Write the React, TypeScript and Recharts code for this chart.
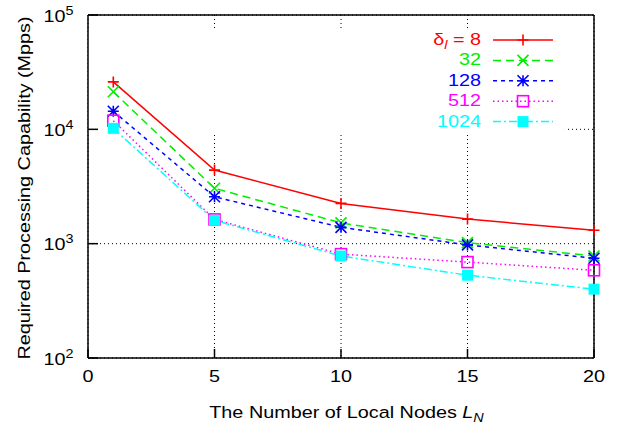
import {
  LineChart,
  Line,
  XAxis,
  YAxis,
  CartesianGrid,
  ReferenceArea,
  Legend,
} from 'recharts';

// Local node counts on the x axis
const nodes = [1, 5, 10, 15, 20];

// Required processing capability (Mpps), one list per delta_l setting
const delta8 = [26000, 4400, 2250, 1640, 1310];
const delta32 = [21300, 3050, 1520, 1020, 780];
const delta128 = [14400, 2570, 1390, 975, 745];
const delta512 = [11900, 1630, 810, 690, 585];
const delta1024 = [10200, 1600, 780, 530, 400];

const seriesLabels = ['8', '32', '128', '512', '1024'];

const xTicks = [0, 5, 10, 15, 20];
const yTicks = [100, 1000, 10000, 100000];

// opaque key background, in axis units
const keyBoxX = [0, 18.85];
const keyBoxY = [9470, 76900];

const FONT = '"Liberation Sans", Arial, Helvetica, sans-serif';
const SX = 1.2;

type Shape = 'plus' | 'cross' | 'star' | 'square' | 'filled';

const series: { key: string; color: string; dash?: string; shape: Shape }[] = [
  { key: 'd8', color: '#ff0000', shape: 'plus' },
  { key: 'd32', color: '#00ee00', dash: '8 5', shape: 'cross' },
  { key: 'd128', color: '#0000ff', dash: '4 4', shape: 'star' },
  { key: 'd512', color: '#ff00ff', dash: '1.5 3', shape: 'square' },
  { key: 'd1024', color: '#00ffff', dash: '8 3 2 3', shape: 'filled' },
];

const values = [delta8, delta32, delta128, delta512, delta1024];

const rows = nodes.map((n, i) => {
  const row: Record<string, number> = { n };
  series.forEach((s, j) => {
    row[s.key] = values[j][i];
  });
  return row;
});

function Wide({
  x,
  y,
  anchor = 'start',
  size = 16.5,
  fill = '#000',
  rotate,
  children,
}: {
  x: number;
  y: number;
  anchor?: 'start' | 'middle' | 'end';
  size?: number;
  fill?: string;
  rotate?: number;
  children: React.ReactNode;
}) {
  const rot = rotate ? ` rotate(${rotate})` : '';
  return (
    <g transform={`translate(${x} ${y})${rot} scale(${SX} 1)`}>
      <text x={0} y={0} textAnchor={anchor} fontFamily={FONT} fontSize={size} fill={fill}>
        {children}
      </text>
    </g>
  );
}

function Marker({ cx, cy, shape, color }: { cx: number; cy: number; shape: Shape; color: string }) {
  const r = 5.5;
  const plus = `M${cx - r},${cy}H${cx + r}M${cx},${cy - r}V${cy + r}`;
  const cross = `M${cx - r},${cy - r}L${cx + r},${cy + r}M${cx - r},${cy + r}L${cx + r},${cy - r}`;
  switch (shape) {
    case 'plus':
      return <path d={plus} stroke={color} strokeWidth={1.6} fill="none" />;
    case 'cross':
      return <path d={cross} stroke={color} strokeWidth={1.6} fill="none" />;
    case 'star':
      return <path d={plus + cross} stroke={color} strokeWidth={1.6} fill="none" />;
    case 'square':
      return (
        <rect x={cx - r} y={cy - r} width={2 * r} height={2 * r} fill="#fff" fillOpacity={0} stroke={color} strokeWidth={1.6} />
      );
    default:
      return <rect x={cx - r} y={cy - r} width={2 * r} height={2 * r} fill={color} />;
  }
}

function XTick({ x, y, payload }: any) {
  return (
    <Wide x={x} y={y} anchor="middle">
      {payload.value}
    </Wide>
  );
}

function YTick({ x, y, payload }: any) {
  const exp = Math.round(Math.log10(payload.value));
  return (
    <Wide x={x} y={y + 6.5} anchor="end">
      10
      <tspan dy={-7} fontSize={12}>
        {exp}
      </tspan>
    </Wide>
  );
}

function XTitle(props: any) {
  const vb = props.viewBox ?? { x: 88, y: 358, width: 506, height: 66 };
  return (
    <Wide x={vb.x + vb.width / 2 + 5.5} y={vb.y + 60} anchor="middle">
      The Number of Local Nodes{' '}
      <tspan fontStyle="italic">L</tspan>
      <tspan dy={4} fontSize={12} fontStyle="italic">
        N
      </tspan>
    </Wide>
  );
}

function YTitle(props: any) {
  const vb = props.viewBox ?? { x: 0, y: 15, width: 88, height: 343 };
  return (
    <Wide x={29.5} y={vb.y + vb.height / 2 + 1.5} anchor="middle" rotate={-90}>
      Required Processing Capability (Mpps)
    </Wide>
  );
}

function KeyContent() {
  return (
    <svg width={619} height={140} style={{ display: 'block' }}>
      {series.map((s, i) => {
        const y = 40 + i * 20.4;
        return (
          <g key={s.key}>
            <Wide x={481} y={y + 5} anchor="end" fill={s.color}>
              {i === 0 ? (
                <>
                  δ
                  <tspan dy={4} fontSize={12} fontStyle="italic">
                    l
                  </tspan>
                  <tspan dy={-4}> = {seriesLabels[i]}</tspan>
                </>
              ) : (
                seriesLabels[i]
              )}
            </Wide>
            <line x1={493} x2={553} y1={y} y2={y} stroke={s.color} strokeWidth={1.5} strokeDasharray={s.dash} />
            <Marker cx={523} cy={y} shape={s.shape} color={s.color} />
          </g>
        );
      })}
    </svg>
  );
}

export default function App() {
  return (
    <div style={{ position: 'fixed', left: 0, top: 0, width: 619, height: 424, background: '#fff' }}>
      <LineChart width={619} height={424} data={rows} margin={{ top: 0, right: 0, bottom: 0, left: 0 }}>
        <CartesianGrid stroke="#000" strokeDasharray="1 3" strokeWidth={1} />
        <XAxis
          dataKey="n"
          type="number"
          domain={[0, 20]}
          ticks={xTicks}
          interval={0}
          height={66}
          tickSize={-9}
          tickMargin={33}
          tick={<XTick />}
          stroke="#000"
          strokeWidth={1.5}
          label={XTitle}
        />
        <XAxis
          xAxisId="top"
          orientation="top"
          type="number"
          domain={[0, 20]}
          ticks={xTicks}
          interval={0}
          height={15}
          tickSize={-9}
          tick={false}
          stroke="#000"
          strokeWidth={1.5}
        />
        <YAxis
          scale="log"
          domain={[100, 100000]}
          ticks={yTicks}
          interval={0}
          allowDataOverflow
          width={88}
          tickSize={-10}
          tickMargin={24.5}
          tick={<YTick />}
          stroke="#000"
          strokeWidth={1.5}
          label={YTitle}
        />
        <YAxis
          yAxisId="right"
          orientation="right"
          scale="log"
          domain={[100, 100000]}
          ticks={yTicks}
          interval={0}
          allowDataOverflow
          width={25}
          tickSize={-10}
          tick={false}
          stroke="#000"
          strokeWidth={1.5}
        />
        <ReferenceArea
          x1={keyBoxX[0]}
          x2={keyBoxX[1]}
          y1={keyBoxY[0]}
          y2={keyBoxY[1]}
          fill="#fff"
          fillOpacity={1}
          stroke="none"
        />
        {series.map((s) => (
          <Line
            key={s.key}
            dataKey={s.key}
            type="linear"
            stroke={s.color}
            strokeWidth={1.5}
            strokeDasharray={s.dash}
            isAnimationActive={false}
            activeDot={false}
            dot={(p: any) => (
              <Marker key={`${s.key}-${p.index}`} cx={p.cx} cy={p.cy} shape={s.shape} color={s.color} />
            )}
          />
        ))}
        <Legend
          content={<KeyContent />}
          layout="vertical"
          align="center"
          verticalAlign="middle"
          wrapperStyle={{ left: 0, top: 0, width: 619, height: 140, pointerEvents: 'none' }}
        />
      </LineChart>
    </div>
  );
}
